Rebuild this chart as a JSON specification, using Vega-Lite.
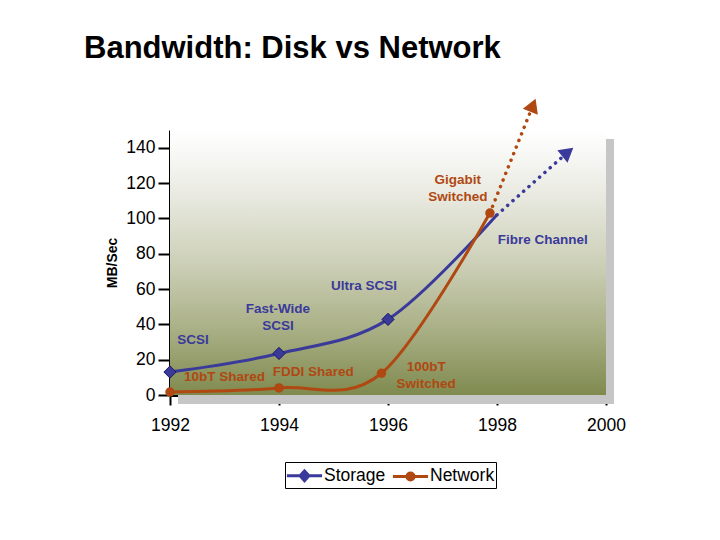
{
  "$schema": "https://vega.github.io/schema/vega-lite/v6.json",
  "width": 436,
  "height": 265,
  "autosize": {"type": "none"},
  "padding": {"left": 170, "top": 130, "right": 114, "bottom": 145},
  "background": "white",
  "title": {
    "text": "Bandwidth: Disk vs Network",
    "anchor": "start",
    "frame": "group",
    "dx": -86,
    "offset": 33,
    "font": "Liberation Sans",
    "fontSize": 31,
    "fontWeight": "bold",
    "color": "black"
  },
  "datasets": {
    "main": [
      {"series": "Storage", "year": 1992, "mbs": 13},
      {"series": "Storage", "year": 1994, "mbs": 23.5},
      {"series": "Storage", "year": 1996, "mbs": 42.8},
      {"series": "Storage", "year": 1998, "mbs": 102},
      {"series": "Network", "year": 1992, "mbs": 1.7},
      {"series": "Network", "year": 1994, "mbs": 4.0},
      {"series": "Network", "year": 1995.88, "mbs": 12.3},
      {"series": "Network", "year": 1997.87, "mbs": 103}
    ],
    "proj": [
      {"series": "Storage", "year": 1998, "mbs": 102},
      {"series": "Storage", "year": 1999.3, "mbs": 137.5},
      {"series": "Network", "year": 1997.87, "mbs": 103},
      {"series": "Network", "year": 1998.66, "mbs": 164}
    ],
    "notes": [
      {"label": "SCSI", "series": "Storage", "year": 1992.42, "mbs": 31.1},
      {"label": "Fast-Wide\nSCSI", "series": "Storage", "year": 1993.98, "mbs": 48.7},
      {"label": "Ultra SCSI", "series": "Storage", "year": 1995.56, "mbs": 61.7},
      {"label": "Fibre Channel", "series": "Storage", "year": 1998.84, "mbs": 87.7},
      {"label": "Gigabit\nSwitched", "series": "Network", "year": 1997.28, "mbs": 121.7},
      {"label": "10bT Shared", "series": "Network", "year": 1993.0, "mbs": 10.2},
      {"label": "FDDI Shared", "series": "Network", "year": 1994.63, "mbs": 13.2},
      {"label": "100bT\nSwitched", "series": "Network", "year": 1996.7, "mbs": 15.8}
    ]
  },
  "layer": [
    {
      "data": {"name": "main"},
      "transform": [{"filter": "datum.year == 1992 && datum.series == 'Storage'"}],
      "mark": {"type": "rect", "color": "#c6c6c6", "xOffset": 8, "x2Offset": 8, "yOffset": 9, "y2Offset": 9},
      "encoding": {
        "x": {"datum": 1992, "type": "quantitative", "scale": {"domain": [1992, 2000], "nice": false, "zero": false}, "title": null},
        "x2": {"datum": 2000},
        "y": {"datum": 0, "type": "quantitative", "scale": {"domain": [0, 150], "nice": false}, "title": "MB/Sec"},
        "y2": {"datum": 150}
      }
    },
    {
      "data": {"name": "main"},
      "transform": [{"filter": "datum.year == 1992 && datum.series == 'Storage'"}],
      "mark": {
        "type": "rect",
        "color": {
          "gradient": "linear", "x1": 0, "y1": 0, "x2": 0, "y2": 1,
          "stops": [
            {"offset": 0, "color": "#ffffff"},
            {"offset": 0.2, "color": "#eeeee8"},
            {"offset": 0.5, "color": "#cdd0b8"},
            {"offset": 0.75, "color": "#aab086"},
            {"offset": 1, "color": "#7f8a4f"}
          ]
        }
      },
      "encoding": {
        "x": {"datum": 1992, "type": "quantitative", "title": null},
        "x2": {"datum": 2000},
        "y": {"datum": 0, "type": "quantitative", "title": "MB/Sec"},
        "y2": {"datum": 150}
      }
    },
    {
      "data": {"name": "main"},
      "mark": {"type": "line", "interpolate": "cardinal", "strokeWidth": 3, "clip": false},
      "encoding": {
        "x": {"field": "year", "type": "quantitative", "title": null, "axis": {"values": [1992, 1994, 1996, 1998, 2000], "format": "d", "tickCount": 10}},
        "y": {"field": "mbs", "type": "quantitative", "title": "MB/Sec", "axis": {"values": [0, 20, 40, 60, 80, 100, 120, 140], "tickCount": 10, "labelOverlap": false}},
        "color": {
          "field": "series", "type": "nominal",
          "scale": {"domain": ["Storage", "Network"], "range": ["#3a3a9a", "#b04812"]},
          "legend": {
            "orient": "none",
            "legendX": 115,
            "legendY": 332,
            "direction": "horizontal",
            "title": null,
            "strokeColor": "black",
            "fillColor": "white",
            "padding": 1,
            "labelFont": "Liberation Sans",
            "labelFontSize": 17.5,
            "labelColor": "black",
            "labelOffset": 7,
            "symbolOffset": 6,
            "columnPadding": 0,
            "symbolSize": 484,
            "encode": {
              "symbols": {
                "update": {
                  "shape": {"signal": "datum.value === 'Storage' ? 'M-1.6,0H1.6M-0.4,0L0,-0.44L0.4,0L0,0.44Z' : 'M-1.6,0H1.6M-0.32,0A0.32,0.32 0 1,0 0.32,0A0.32,0.32 0 1,0 -0.32,0Z'"},
                  "fill": {"signal": "datum.value === 'Storage' ? '#1c1c80' : '#9c3f12'"},
                  "stroke": {"signal": "datum.value === 'Storage' ? '#1c1c80' : '#9c3f12'"},
                  "strokeWidth": {"value": 3},
                  "opacity": {"value": 1},
                  "size": {"value": 484}
                }
              }
            }
          }
        },
        "order": {"field": "year"}
      }
    },
    {
      "data": {"name": "proj"},
      "mark": {"type": "line", "strokeWidth": 3.5, "strokeCap": "round", "strokeDash": [0.1, 7], "clip": false},
      "encoding": {
        "x": {"field": "year", "type": "quantitative", "title": null},
        "y": {"field": "mbs", "type": "quantitative", "title": "MB/Sec"},
        "color": {"field": "series", "type": "nominal", "legend": null},
        "order": {"field": "year"}
      }
    },
    {
      "data": {"name": "main"},
      "transform": [{"filter": "datum.series == 'Storage' && datum.year < 1997"}],
      "mark": {"type": "point", "shape": "diamond", "filled": true, "size": 150, "stroke": "#1a1a5e", "strokeWidth": 1, "opacity": 1},
      "encoding": {
        "x": {"field": "year", "type": "quantitative", "title": null},
        "y": {"field": "mbs", "type": "quantitative", "title": "MB/Sec"},
        "color": {"field": "series", "type": "nominal", "legend": null}
      }
    },
    {
      "data": {"name": "main"},
      "transform": [{"filter": "datum.series == 'Network'"}],
      "mark": {"type": "point", "shape": "circle", "filled": true, "size": 90, "opacity": 1},
      "encoding": {
        "x": {"field": "year", "type": "quantitative", "title": null},
        "y": {"field": "mbs", "type": "quantitative", "title": "MB/Sec"},
        "color": {"field": "series", "type": "nominal", "legend": null}
      }
    },
    {
      "data": {"name": "proj"},
      "transform": [{"filter": "datum.series == 'Network' && datum.year > 1998.3"}],
      "mark": {"type": "point", "shape": "triangle-up", "filled": true, "size": 260, "angle": 22, "opacity": 1, "clip": false},
      "encoding": {
        "x": {"field": "year", "type": "quantitative", "title": null},
        "y": {"field": "mbs", "type": "quantitative", "title": "MB/Sec"},
        "color": {"field": "series", "type": "nominal", "legend": null}
      }
    },
    {
      "data": {"name": "proj"},
      "transform": [{"filter": "datum.series == 'Storage' && datum.year > 1998.3"}],
      "mark": {"type": "point", "shape": "triangle-up", "filled": true, "size": 260, "angle": 51, "opacity": 1, "clip": false},
      "encoding": {
        "x": {"field": "year", "type": "quantitative", "title": null},
        "y": {"field": "mbs", "type": "quantitative", "title": "MB/Sec"},
        "color": {"field": "series", "type": "nominal", "legend": null}
      }
    },
    {
      "data": {"name": "notes"},
      "mark": {"type": "text", "font": "Liberation Sans", "fontSize": 13.5, "fontWeight": "bold", "lineBreak": "\n", "lineHeight": 17, "align": "center", "baseline": "middle", "clip": false},
      "encoding": {
        "x": {"field": "year", "type": "quantitative", "title": null},
        "y": {"field": "mbs", "type": "quantitative", "title": "MB/Sec"},
        "text": {"field": "label"},
        "color": {"field": "series", "type": "nominal", "legend": null}
      }
    }
  ],
  "config": {
    "view": {"stroke": null},
    "axis": {"grid": false, "zindex": 1},
    "axisX": {
      "domainColor": "black",
      "domainWidth": 3,
      "tickColor": "black",
      "tickWidth": 2,
      "tickSize": 10,
      "labelFont": "Liberation Sans",
      "labelFontSize": 17.5,
      "labelColor": "black",
      "labelPadding": 11,
      "labelFlush": false
    },
    "axisY": {
      "domainColor": "black",
      "domainWidth": 3,
      "tickColor": "black",
      "tickWidth": 2,
      "tickSize": 12,
      "labelFont": "Liberation Sans",
      "labelFontSize": 17.5,
      "labelColor": "black",
      "labelPadding": 3,
      "labelFlush": false,
      "labelOverlap": false,
      "titleFont": "Liberation Sans",
      "titleFontSize": 14,
      "titleFontWeight": "bold",
      "titleColor": "black",
      "titlePadding": 6
    }
  }
}
